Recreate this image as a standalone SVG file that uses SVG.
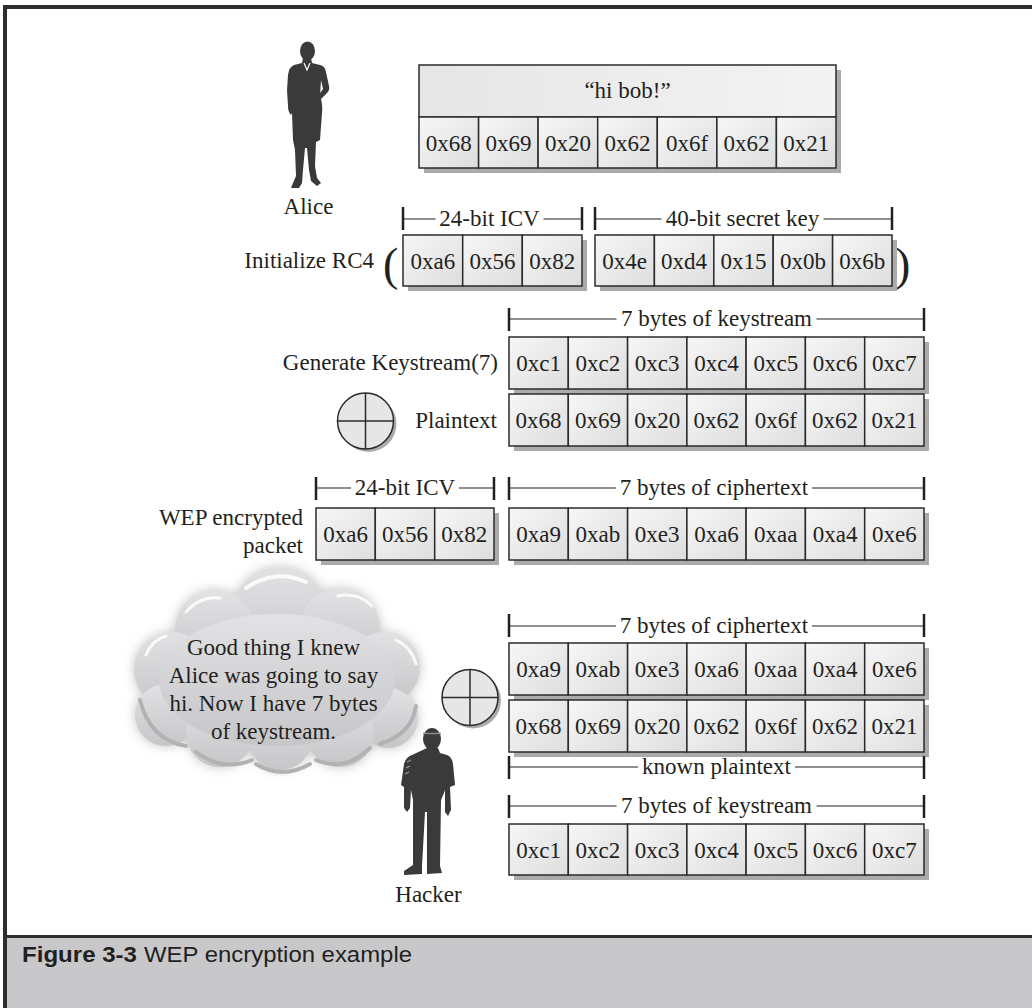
<svg xmlns="http://www.w3.org/2000/svg" width="1032" height="1008" viewBox="0 0 1032 1008">
  <defs>
    <linearGradient id="cellGrad" x1="0" y1="0" x2="1" y2="1">
      <stop offset="0" stop-color="#f7f7f7"/>
      <stop offset="1" stop-color="#dddddd"/>
    </linearGradient>
    <linearGradient id="headGrad" x1="0" y1="0" x2="1" y2="0">
      <stop offset="0" stop-color="#e6e6e6"/>
      <stop offset="1" stop-color="#f3f3f3"/>
    </linearGradient>
    <linearGradient id="cloudGrad" x1="0" y1="0" x2="0" y2="1">
      <stop offset="0" stop-color="#e2e2e4"/>
      <stop offset="1" stop-color="#c6c6c8"/>
    </linearGradient>
    <filter id="glow" x="-20%" y="-20%" width="140%" height="140%">
      <feGaussianBlur stdDeviation="6"/>
    </filter>
    <g id="cloudShape">
      <circle cx="280" cy="615" r="48"/>
      <circle cx="215" cy="630" r="40"/>
      <circle cx="340" cy="628" r="40"/>
      <circle cx="172" cy="670" r="38"/>
      <circle cx="384" cy="668" r="36"/>
      <circle cx="166" cy="715" r="31"/>
      <circle cx="388" cy="718" r="30"/>
      <circle cx="220" cy="733" r="34"/>
      <circle cx="280" cy="737" r="33"/>
      <circle cx="340" cy="733" r="34"/>
      <ellipse cx="277" cy="680" rx="118" ry="66"/>
    </g>
  </defs>
  <style>
    .cell { fill: url(#cellGrad); stroke: #2b2b2b; stroke-width: 1.5; }
    .head { fill: url(#headGrad); stroke: #2b2b2b; stroke-width: 1.5; }
    .shadow { fill: #ababab; }
    .t { font-family: "Liberation Serif", "DejaVu Serif", serif; font-size: 23px; fill: #231f20; }
    .c { text-anchor: middle; }
    .r { text-anchor: end; }
    .paren { font-size: 46px; }
    .tick { stroke: #231f20; stroke-width: 2.5; }
    .rule { stroke: #231f20; stroke-width: 1.2; }
    .fig { fill: #3a3a3a; }
    .xor { fill: #e6e6e6; stroke: #2b2b2b; stroke-width: 1.5; }
    .xline { stroke: #2b2b2b; stroke-width: 1.5; }
    .cap { font-family: "Liberation Sans", Arial, sans-serif; font-size: 22px; fill: #231f20; }
  </style>

  <!-- page frame and caption band -->
  <rect x="0" y="0" width="1032" height="1008" fill="#ffffff"/>
  <rect x="5" y="936" width="1027" height="72" fill="#c8c8ca"/>
  <rect x="5" y="935" width="1027" height="3" fill="#2e2e2e"/>
  <rect x="3" y="5" width="1029" height="4" fill="#2e2e2e"/>
  <rect x="3" y="5" width="4" height="1003" fill="#2e2e2e"/>
  <text class="cap" x="22" y="962" font-weight="bold" textLength="115" lengthAdjust="spacingAndGlyphs">Figure 3-3</text>
  <text class="cap" x="144" y="962" textLength="268" lengthAdjust="spacingAndGlyphs">WEP encryption example</text>

  <!-- Alice -->
  <g id="alice">
    <ellipse class="fig" cx="307.5" cy="51" rx="7.5" ry="9.5"/>
    <path class="fig" d="M303,58 L311,58 L312,63 L320,65 Q325,66 326,72 L329,86 Q330,90 327,93 L321,99 L318,96 L323,89 L321,80 L320,96 Q323,104 322,113 L320,140 L316,142 L315,166 L317,178 L321,183 L317,186 L311,181 L309,170 L307,148 L305,148 L303,170 L302,183 L299,188 L291,188 L293,183 L296,176 L295,150 L293,140 L292,113 L291,115 Q288,112 288,106 L287,90 L288,75 Q289,67 294,65 L302,63 Z"/>
    <polyline points="304,63 307,70 310,63" fill="none" stroke="#ffffff" stroke-width="1.2"/>
    <text class="t c" x="308.5" y="214">Alice</text>
  </g>

  <!-- plaintext message -->
  <g id="message">
    <rect class="shadow" x="424" y="70" width="417" height="103"/>
    <rect class="head" x="419" y="65" width="417" height="52"/>
    <text class="t c" x="627.5" y="98">“hi bob!”</text>
    <rect class="cell" x="419" y="117" width="59.6" height="51"/>
    <rect class="cell" x="478.6" y="117" width="59.5" height="51"/>
    <rect class="cell" x="538.1" y="117" width="59.6" height="51"/>
    <rect class="cell" x="597.7" y="117" width="59.6" height="51"/>
    <rect class="cell" x="657.3" y="117" width="59.6" height="51"/>
    <rect class="cell" x="716.9" y="117" width="59.5" height="51"/>
    <rect class="cell" x="776.4" y="117" width="59.6" height="51"/>
    <text class="t c" x="448.8" y="151">0x68</text>
    <text class="t c" x="508.4" y="151">0x69</text>
    <text class="t c" x="567.9" y="151">0x20</text>
    <text class="t c" x="627.5" y="151">0x62</text>
    <text class="t c" x="687.1" y="151">0x6f</text>
    <text class="t c" x="746.6" y="151">0x62</text>
    <text class="t c" x="806.2" y="151">0x21</text>
  </g>

  <!-- RC4 initialisation: IV + secret key -->
  <g id="rc4-init">
    <text class="t r" x="374" y="268">Initialize RC4</text>
    <text class="t paren" x="383" y="280">(</text>
    <text class="t paren" x="895" y="280">)</text>
    <rect class="shadow" x="408" y="240" width="179" height="51"/>
    <rect class="cell" x="403" y="235" width="59.7" height="51"/>
    <rect class="cell" x="462.7" y="235" width="59.6" height="51"/>
    <rect class="cell" x="522.3" y="235" width="59.7" height="51"/>
    <text class="t c" x="432.8" y="268.5">0xa6</text>
    <text class="t c" x="492.5" y="268.5">0x56</text>
    <text class="t c" x="552.2" y="268.5">0x82</text>
    <rect class="shadow" x="600" y="240" width="297" height="51"/>
    <rect class="cell" x="595" y="235" width="59.4" height="51"/>
    <rect class="cell" x="654.4" y="235" width="59.4" height="51"/>
    <rect class="cell" x="713.8" y="235" width="59.4" height="51"/>
    <rect class="cell" x="773.2" y="235" width="59.4" height="51"/>
    <rect class="cell" x="832.6" y="235" width="59.4" height="51"/>
    <text class="t c" x="624.7" y="268.5">0x4e</text>
    <text class="t c" x="684.1" y="268.5">0xd4</text>
    <text class="t c" x="743.5" y="268.5">0x15</text>
    <text class="t c" x="802.9" y="268.5">0x0b</text>
    <text class="t c" x="862.3" y="268.5">0x6b</text>
  </g>

  <!-- generated keystream -->
  <g id="keystream">
    <text class="t r" x="498" y="370">Generate Keystream(7)</text>
    <rect class="shadow" x="514" y="342" width="415" height="52"/>
    <rect class="cell" x="509" y="337" width="59.3" height="52"/>
    <rect class="cell" x="568.3" y="337" width="59.3" height="52"/>
    <rect class="cell" x="627.6" y="337" width="59.3" height="52"/>
    <rect class="cell" x="686.9" y="337" width="59.2" height="52"/>
    <rect class="cell" x="746.1" y="337" width="59.3" height="52"/>
    <rect class="cell" x="805.4" y="337" width="59.3" height="52"/>
    <rect class="cell" x="864.7" y="337" width="59.3" height="52"/>
    <text class="t c" x="538.6" y="371">0xc1</text>
    <text class="t c" x="597.9" y="371">0xc2</text>
    <text class="t c" x="657.2" y="371">0xc3</text>
    <text class="t c" x="716.5" y="371">0xc4</text>
    <text class="t c" x="775.8" y="371">0xc5</text>
    <text class="t c" x="835.1" y="371">0xc6</text>
    <text class="t c" x="894.4" y="371">0xc7</text>
  </g>

  <!-- XOR operator -->
  <g id="xor-1">
    <circle class="shadow" cx="368.5" cy="424" r="28"/>
    <circle class="xor" cx="365.5" cy="421" r="28"/>
    <line class="xline" x1="337.5" y1="421" x2="393.5" y2="421"/>
    <line class="xline" x1="365.5" y1="393" x2="365.5" y2="449"/>
  </g>

  <!-- plaintext bytes -->
  <g id="plaintext">
    <text class="t r" x="497" y="428">Plaintext</text>
    <rect class="shadow" x="514" y="399" width="415" height="52"/>
    <rect class="cell" x="509" y="394" width="59.3" height="52"/>
    <rect class="cell" x="568.3" y="394" width="59.3" height="52"/>
    <rect class="cell" x="627.6" y="394" width="59.3" height="52"/>
    <rect class="cell" x="686.9" y="394" width="59.2" height="52"/>
    <rect class="cell" x="746.1" y="394" width="59.3" height="52"/>
    <rect class="cell" x="805.4" y="394" width="59.3" height="52"/>
    <rect class="cell" x="864.7" y="394" width="59.3" height="52"/>
    <text class="t c" x="538.6" y="428">0x68</text>
    <text class="t c" x="597.9" y="428">0x69</text>
    <text class="t c" x="657.2" y="428">0x20</text>
    <text class="t c" x="716.5" y="428">0x62</text>
    <text class="t c" x="775.8" y="428">0x6f</text>
    <text class="t c" x="835.1" y="428">0x62</text>
    <text class="t c" x="894.4" y="428">0x21</text>
  </g>

  <!-- encrypted packet: IV + ciphertext -->
  <g id="wep-packet">
    <text class="t r" x="303" y="525">WEP encrypted</text>
    <text class="t r" x="303" y="553">packet</text>
    <rect class="shadow" x="321" y="513" width="178" height="52"/>
    <rect class="cell" x="316" y="508" width="59.3" height="52"/>
    <rect class="cell" x="375.3" y="508" width="59.4" height="52"/>
    <rect class="cell" x="434.7" y="508" width="59.3" height="52"/>
    <text class="t c" x="345.7" y="542">0xa6</text>
    <text class="t c" x="405" y="542">0x56</text>
    <text class="t c" x="464.3" y="542">0x82</text>
    <rect class="shadow" x="514" y="513" width="415" height="52"/>
    <rect class="cell" x="509" y="508" width="59.3" height="52"/>
    <rect class="cell" x="568.3" y="508" width="59.3" height="52"/>
    <rect class="cell" x="627.6" y="508" width="59.3" height="52"/>
    <rect class="cell" x="686.9" y="508" width="59.2" height="52"/>
    <rect class="cell" x="746.1" y="508" width="59.3" height="52"/>
    <rect class="cell" x="805.4" y="508" width="59.3" height="52"/>
    <rect class="cell" x="864.7" y="508" width="59.3" height="52"/>
    <text class="t c" x="538.6" y="542">0xa9</text>
    <text class="t c" x="597.9" y="542">0xab</text>
    <text class="t c" x="657.2" y="542">0xe3</text>
    <text class="t c" x="716.5" y="542">0xa6</text>
    <text class="t c" x="775.8" y="542">0xaa</text>
    <text class="t c" x="835.1" y="542">0xa4</text>
    <text class="t c" x="894.4" y="542">0xe6</text>
  </g>

  <!-- thought cloud -->
  <g id="cloud">
    <use href="#cloudShape" fill="#c4c4c6" filter="url(#glow)"/>
    <use href="#cloudShape" fill="url(#cloudGrad)"/>
    <g fill="none" stroke="#ffffff" stroke-linecap="round" opacity="0.85">
      <path d="M246,588 Q276,568 306,582" stroke-width="4"/>
      <path d="M186,612 Q200,596 220,598" stroke-width="3"/>
      <path d="M338,596 Q358,592 372,606" stroke-width="3"/>
      <path d="M146,655 Q152,640 166,636" stroke-width="3"/>
      <path d="M396,640 Q412,648 416,664" stroke-width="3"/>
    </g>
    <g fill="none" stroke="#b2b2b4" stroke-linecap="round">
      <path d="M140,700 Q150,740 186,746" stroke-width="4"/>
      <path d="M196,752 Q222,772 252,760" stroke-width="4"/>
      <path d="M256,764 Q282,780 310,764" stroke-width="4"/>
      <path d="M316,760 Q346,772 370,748" stroke-width="4"/>
      <path d="M380,744 Q412,734 416,706" stroke-width="4"/>
    </g>
    <text class="t c" x="273.5" y="655">Good thing I knew</text>
    <text class="t c" x="273.5" y="683">Alice was going to say</text>
    <text class="t c" x="273.5" y="711">hi. Now I have 7 bytes</text>
    <text class="t c" x="273.5" y="739">of keystream.</text>
  </g>

  <!-- XOR operator -->
  <g id="xor-2">
    <circle class="shadow" cx="473" cy="700.5" r="28"/>
    <circle class="xor" cx="470" cy="697.5" r="28"/>
    <line class="xline" x1="442" y1="697.5" x2="498" y2="697.5"/>
    <line class="xline" x1="470" y1="669.5" x2="470" y2="725.5"/>
  </g>

  <!-- captured ciphertext -->
  <g id="ciphertext">
    <rect class="shadow" x="514" y="648" width="415" height="52"/>
    <rect class="cell" x="509" y="643" width="59.3" height="52"/>
    <rect class="cell" x="568.3" y="643" width="59.3" height="52"/>
    <rect class="cell" x="627.6" y="643" width="59.3" height="52"/>
    <rect class="cell" x="686.9" y="643" width="59.2" height="52"/>
    <rect class="cell" x="746.1" y="643" width="59.3" height="52"/>
    <rect class="cell" x="805.4" y="643" width="59.3" height="52"/>
    <rect class="cell" x="864.7" y="643" width="59.3" height="52"/>
    <text class="t c" x="538.6" y="677">0xa9</text>
    <text class="t c" x="597.9" y="677">0xab</text>
    <text class="t c" x="657.2" y="677">0xe3</text>
    <text class="t c" x="716.5" y="677">0xa6</text>
    <text class="t c" x="775.8" y="677">0xaa</text>
    <text class="t c" x="835.1" y="677">0xa4</text>
    <text class="t c" x="894.4" y="677">0xe6</text>
  </g>

  <!-- guessed plaintext -->
  <g id="known-plaintext">
    <rect class="shadow" x="514" y="705" width="415" height="52"/>
    <rect class="cell" x="509" y="700" width="59.3" height="52"/>
    <rect class="cell" x="568.3" y="700" width="59.3" height="52"/>
    <rect class="cell" x="627.6" y="700" width="59.3" height="52"/>
    <rect class="cell" x="686.9" y="700" width="59.2" height="52"/>
    <rect class="cell" x="746.1" y="700" width="59.3" height="52"/>
    <rect class="cell" x="805.4" y="700" width="59.3" height="52"/>
    <rect class="cell" x="864.7" y="700" width="59.3" height="52"/>
    <text class="t c" x="538.6" y="734">0x68</text>
    <text class="t c" x="597.9" y="734">0x69</text>
    <text class="t c" x="657.2" y="734">0x20</text>
    <text class="t c" x="716.5" y="734">0x62</text>
    <text class="t c" x="775.8" y="734">0x6f</text>
    <text class="t c" x="835.1" y="734">0x62</text>
    <text class="t c" x="894.4" y="734">0x21</text>
  </g>

  <!-- recovered keystream -->
  <g id="recovered-keystream">
    <rect class="shadow" x="514" y="829" width="415" height="51"/>
    <rect class="cell" x="509" y="824" width="59.3" height="51"/>
    <rect class="cell" x="568.3" y="824" width="59.3" height="51"/>
    <rect class="cell" x="627.6" y="824" width="59.3" height="51"/>
    <rect class="cell" x="686.9" y="824" width="59.2" height="51"/>
    <rect class="cell" x="746.1" y="824" width="59.3" height="51"/>
    <rect class="cell" x="805.4" y="824" width="59.3" height="51"/>
    <rect class="cell" x="864.7" y="824" width="59.3" height="51"/>
    <text class="t c" x="538.6" y="857.5">0xc1</text>
    <text class="t c" x="597.9" y="857.5">0xc2</text>
    <text class="t c" x="657.2" y="857.5">0xc3</text>
    <text class="t c" x="716.5" y="857.5">0xc4</text>
    <text class="t c" x="775.8" y="857.5">0xc5</text>
    <text class="t c" x="835.1" y="857.5">0xc6</text>
    <text class="t c" x="894.4" y="857.5">0xc7</text>
  </g>

  <!-- Hacker -->
  <g id="hacker">
    <ellipse class="fig" cx="432" cy="739" rx="9" ry="11"/>
    <line x1="423" y1="733.5" x2="441" y2="733.5" stroke="#8a8a8a" stroke-width="1.5"/>
    <path class="fig" d="M427,748 L438,748 L440,753 L447,755 Q452,757 453,764 L455,785 L450,787 L451,810 L448,816 L445,812 L445,790 L444,793 L441,800 L440,866 L442,873 L427,874 L427,866 L427,812 L425,812 L422,866 L422,874 L404,875 L404,871 L413,865 L413,800 L411,790 L410,808 L407,812 L404,808 L404,787 L401,785 L404,764 Q406,757 412,755 Z"/>
    <g stroke="#9a9a9a" stroke-width="1.2">
      <line x1="407" y1="762" x2="411" y2="760"/>
      <line x1="406" y1="768" x2="410" y2="766"/>
      <line x1="405" y1="774" x2="409" y2="772"/>
    </g>
    <text class="t c" x="428.5" y="902">Hacker</text>
  </g>

  <!-- span markers above the byte groups -->
  <g id="connectors">
    <!-- 24-bit ICV (RC4 input) -->
    <line class="rule" x1="403" y1="219" x2="435.5" y2="219"/>
    <line class="rule" x1="543.5" y1="219" x2="582" y2="219"/>
    <line class="tick" x1="403" y1="207" x2="403" y2="230"/>
    <line class="tick" x1="582" y1="207" x2="582" y2="230"/>
    <text class="t c" x="489.5" y="226">24-bit ICV</text>
    <!-- 40-bit secret key -->
    <line class="rule" x1="595" y1="219" x2="661.5" y2="219"/>
    <line class="rule" x1="823.5" y1="219" x2="892" y2="219"/>
    <line class="tick" x1="595" y1="207" x2="595" y2="230"/>
    <line class="tick" x1="892" y1="207" x2="892" y2="230"/>
    <text class="t c" x="742.5" y="226">40-bit secret key</text>
    <!-- 7 bytes of keystream -->
    <line class="rule" x1="509" y1="319" x2="616.5" y2="319"/>
    <line class="rule" x1="816.5" y1="319" x2="924" y2="319"/>
    <line class="tick" x1="509" y1="308" x2="509" y2="331"/>
    <line class="tick" x1="924" y1="308" x2="924" y2="331"/>
    <text class="t c" x="716.5" y="326">7 bytes of keystream</text>
    <!-- 24-bit ICV (packet) -->
    <line class="rule" x1="316" y1="488" x2="351" y2="488"/>
    <line class="rule" x1="459" y1="488" x2="494" y2="488"/>
    <line class="tick" x1="316" y1="477" x2="316" y2="500"/>
    <line class="tick" x1="494" y1="477" x2="494" y2="500"/>
    <text class="t c" x="405" y="495">24-bit ICV</text>
    <!-- 7 bytes of ciphertext (packet) -->
    <line class="rule" x1="509" y1="488" x2="616" y2="488"/>
    <line class="rule" x1="812" y1="488" x2="924" y2="488"/>
    <line class="tick" x1="509" y1="477" x2="509" y2="500"/>
    <line class="tick" x1="924" y1="477" x2="924" y2="500"/>
    <text class="t c" x="714" y="495">7 bytes of ciphertext</text>
    <!-- 7 bytes of ciphertext (captured) -->
    <line class="rule" x1="509" y1="626" x2="616" y2="626"/>
    <line class="rule" x1="812" y1="626" x2="924" y2="626"/>
    <line class="tick" x1="509" y1="614" x2="509" y2="637"/>
    <line class="tick" x1="924" y1="614" x2="924" y2="637"/>
    <text class="t c" x="714" y="633">7 bytes of ciphertext</text>
    <!-- known plaintext -->
    <line class="rule" x1="509" y1="767" x2="638" y2="767"/>
    <line class="rule" x1="795" y1="767" x2="924" y2="767"/>
    <line class="tick" x1="509" y1="756" x2="509" y2="779"/>
    <line class="tick" x1="924" y1="756" x2="924" y2="779"/>
    <text class="t c" x="716.5" y="774">known plaintext</text>
    <!-- 7 bytes of keystream (recovered) -->
    <line class="rule" x1="509" y1="806" x2="616.5" y2="806"/>
    <line class="rule" x1="816.5" y1="806" x2="924" y2="806"/>
    <line class="tick" x1="509" y1="795" x2="509" y2="818"/>
    <line class="tick" x1="924" y1="795" x2="924" y2="818"/>
    <text class="t c" x="716.5" y="813">7 bytes of keystream</text>
  </g>
</svg>
